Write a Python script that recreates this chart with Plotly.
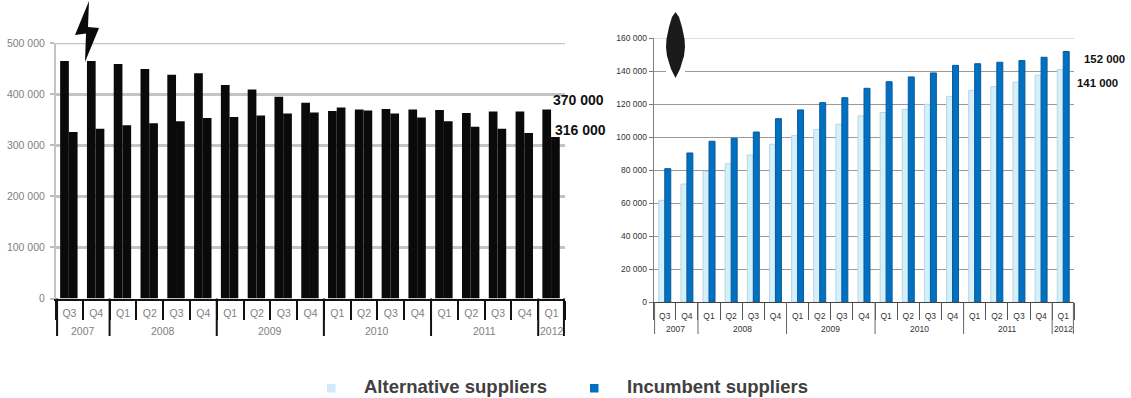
import plotly.graph_objects as go

W, H = 1131, 398

years = ["2007"] * 2 + ["2008"] * 4 + ["2009"] * 4 + ["2010"] * 4 + ["2011"] * 4 + ["2012"]
quarters = ["Q3", "Q4", "Q1", "Q2", "Q3", "Q4", "Q1", "Q2", "Q3", "Q4",
            "Q1", "Q2", "Q3", "Q4", "Q1", "Q2", "Q3", "Q4", "Q1"]

# Electricity customers per quarter
power_alternative = [465000, 465000, 459000, 449000, 438000, 441000, 418000, 409000, 395000, 383000,
                     367000, 370000, 371000, 370000, 369000, 363000, 366000, 366000, 370000]
power_incumbent = [326000, 332000, 339000, 343000, 347000, 353000, 355000, 358000, 362000, 364000,
                   374000, 368000, 362000, 354000, 347000, 336000, 332000, 324000, 316000]

# Gas customers per quarter
gas_alternative = [61800, 71700, 79400, 84000, 89300, 95800, 101000, 104800, 107900, 113000,
                   115000, 117000, 120000, 124800, 128500, 130700, 133300, 137600, 141000]
gas_incumbent = [81000, 90500, 97600, 99400, 103200, 111300, 116600, 121000, 124000, 129700,
                 133700, 136600, 139000, 143600, 144600, 145500, 146500, 148500, 152000]

slots = list(range(len(quarters)))
x_range = [-0.5, len(quarters) - 0.5]


def px(x):
    return x / W


def py(y):
    return 1 - y / H


def path(points):
    return "M" + "L".join(f"{px(x):.5f},{py(y):.5f}" for x, y in points) + "Z"


def year_spans():
    """First and last slot of each year."""
    spans = {}
    for slot, year in zip(slots, years):
        spans.setdefault(year, [slot, slot])[1] = slot
    return spans


fig = go.Figure()

# Left panel: all black columns
fig.add_bar(x=slots, y=power_alternative, xaxis="x", yaxis="y", width=0.325, offset=-0.345,
            marker=dict(color="#0a0a0a", line_width=0), name="Alternative suppliers")
fig.add_bar(x=slots, y=power_incumbent, xaxis="x", yaxis="y", width=0.325, offset=-0.02,
            marker=dict(color="#0a0a0a", line_width=0), name="Incumbent suppliers")

# Right panel: light and dark blue columns
fig.add_bar(x=slots, y=gas_alternative, xaxis="x2", yaxis="y2", width=0.27, offset=-0.27,
            marker=dict(color="#D3F0FB", line=dict(color="#B5D6E4", width=1)),
            name="Alternative suppliers")
fig.add_bar(x=slots, y=gas_incumbent, xaxis="x2", yaxis="y2", width=0.27, offset=0,
            marker=dict(color="#0070C0", line=dict(color="#0A5A9C", width=1)),
            name="Incumbent suppliers")

left_font = dict(family="Liberation Sans", size=10.5, color="#7f7f7f")
right_font = dict(family="Liberation Sans", size=8.5, color="#333333")

shapes = [
    # lightning bolt above the left panel
    dict(type="path", xref="paper", yref="paper", fillcolor="#0a0a0a", line_width=0,
         path=path([(89, 1), (75, 35), (86, 33.5), (85, 62), (99, 28), (88, 27)])),
    # top gridlines, which sit on the upper edge of each value range
    dict(type="line", xref="x domain", yref="y", x0=0, x1=1, y0=500000, y1=500000,
         line=dict(color="#c4c4c4", width=2.5), layer="below"),
    dict(type="line", xref="x2 domain", yref="y2", x0=0, x1=1, y0=160000, y1=160000,
         line=dict(color="#c8c8c8", width=1)),
    # flame drop above the right panel, with a white gap behind it
    dict(type="rect", xref="paper", yref="paper", x0=px(666), x1=px(685), y0=py(78), y1=py(60),
         fillcolor="white", line_width=0),
    dict(type="path", xref="paper", yref="paper", fillcolor="#1a1a1a", line_width=0,
         path=path([(675.5, 12), (679, 17), (682, 27), (684.5, 39), (685, 47), (684, 56), (680, 69), (675.5, 78),
                    (671, 69), (667, 56), (666, 47), (666.5, 39), (669, 27), (672, 17)])),
    # legend swatches
    dict(type="rect", xref="paper", yref="paper", x0=px(327), x1=px(335.5), y0=py(392.5), y1=py(384),
         fillcolor="#CFEBFB", line_width=0),
    dict(type="rect", xref="paper", yref="paper", x0=px(590), x1=px(598.5), y0=py(392.5), y1=py(384),
         fillcolor="#0070C0", line_width=0),
]


def label(text, x, y, size, color="#111111"):
    return dict(text=f"<b>{text}</b>", xref="paper", yref="paper", x=px(x), y=py(y), xanchor="left",
                yanchor="middle", showarrow=False, font=dict(family="Liberation Sans", size=size, color=color))


annotations = [
    label(f"{power_alternative[-1] // 1000} 000", 551, 100, 14),
    label(f"{power_incumbent[-1] // 1000} 000", 553, 130, 14),
    label(f"{gas_incumbent[-1] // 1000} 000", 1081.5, 59, 11.4),
    label(f"{gas_alternative[-1] // 1000} 000", 1075, 83, 11.4),
    label("Alternative suppliers", 361.5, 386.5, 18.5, color="#404040"),
    label("Incumbent suppliers", 625, 386.5, 18.5, color="#404040"),
]

# Year captions and the long separators under each panel
for xref, font, year_y, line_bottom, line_top, line_style in (
    ("x", left_font, 331, 336, 298.5, dict(color="#111111", width=2)),
    ("x2", right_font, 329, 334, 302.3, dict(color="#666666", width=1)),
):
    spans = year_spans()
    edges = sorted({a - 0.5 for a, _ in spans.values()} | {b + 0.5 for _, b in spans.values()})
    for edge in edges:
        # keep the outermost separators fully inside the clipped axis range
        at = min(max(edge, x_range[0] + 0.04), x_range[1] - 0.04)
        shapes.append(dict(type="line", xref=xref, yref="paper", x0=at, x1=at,
                           y0=py(line_bottom), y1=py(line_top), line=line_style))
    for year, (first, last) in spans.items():
        annotations.append(dict(text=year, xref=xref, yref="paper", x=(first + last) / 2, y=py(year_y),
                                xanchor="center", yanchor="middle", showarrow=False, font=font))

fig.update_layout(
    width=W, height=H, margin=dict(l=0, r=0, t=0, b=0), autosize=False,
    paper_bgcolor="white", plot_bgcolor="white", separators=". ",
    barmode="overlay", showlegend=False, shapes=shapes, annotations=annotations,
    xaxis=dict(domain=[px(56), px(565)], anchor="y", range=x_range, tickmode="array", tickvals=slots,
               ticktext=quarters, ticks="", tickangle=0, ticklabelstandoff=4, tickfont=left_font, automargin=False,
               minor=dict(ticks="outside", tick0=-0.5, dtick=1, ticklen=19, tickwidth=2, tickcolor="#111111"),
               showline=True, linecolor="#111111", linewidth=2, showgrid=False, zeroline=False),
    yaxis=dict(domain=[py(298.5), py(43)], anchor="x", range=[0, 500000], tick0=0, dtick=100000, automargin=False,
               tickformat=",d", tickfont=left_font, ticks="outside", ticklen=4, tickcolor="#bdbdbd",
               ticklabelstandoff=3, tickwidth=2, showline=True, linecolor="#c4c4c4", linewidth=2,
               showgrid=True, gridcolor="#c4c4c4", gridwidth=2.5, zeroline=False),
    xaxis2=dict(domain=[px(653.7), px(1074.3)], anchor="y2", range=x_range, tickmode="array", tickvals=slots,
                ticktext=quarters, ticks="", tickangle=0, ticklabelstandoff=5, tickfont=right_font, automargin=False,
                minor=dict(ticks="outside", tick0=-0.5, dtick=1, ticklen=17, tickwidth=1, tickcolor="#555555"),
                showline=True, linecolor="#444444", linewidth=1, showgrid=False, zeroline=False),
    yaxis2=dict(domain=[py(302.3), py(38.3)], anchor="x2", range=[0, 160000], tick0=0, dtick=20000, automargin=False,
                tickformat=",d", tickfont=right_font, ticks="outside", ticklen=4, tickcolor="#777777",
                tickwidth=1, showline=True, linecolor="#808080", linewidth=1,
                showgrid=True, gridcolor="#9a9a9a", gridwidth=1, zeroline=False),
)

fig.write_html("out.html")
